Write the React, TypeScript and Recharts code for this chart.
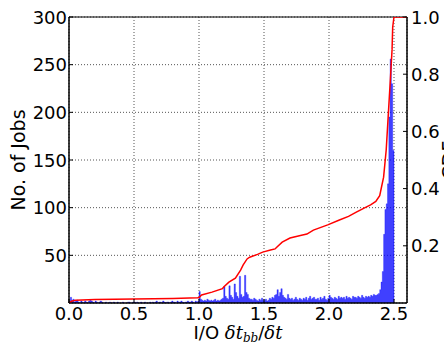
import React from 'react';
import { ComposedChart, Area, Line, XAxis, YAxis, CartesianGrid, ReferenceArea } from 'recharts';

// Histogram: number of jobs per bin of I/O dt_bb/dt (bin width 0.01, starting at 0.00)
const binStart = 0;
const binWidth = 0.01;
const binEnd = 2.5;
const jobCounts: number[] = [
  2, 6, 3, 4, 1, 2, 3, 1, 0, 2,
  1, 0, 2, 1, 0, 2, 3, 2, 1, 0,
  2, 1, 0, 1, 2, 1, 0, 0, 1, 0,
  0, 1, 0, 0, 1, 0, 0, 1, 0, 0,
  0, 1, 0, 0, 0, 1, 1, 0, 0, 1,
  1, 0, 1, 0, 0, 1, 0, 0, 1, 0,
  0, 0, 1, 0, 1, 0, 1, 2, 0, 1,
  1, 0, 2, 1, 0, 1, 1, 0, 1, 2,
  1, 1, 0, 2, 1, 1, 2, 1, 0, 1,
  1, 2, 1, 1, 2, 1, 0, 2, 1, 2,
  12, 4, 3, 2, 3, 2, 4, 3, 2, 3,
  2, 3, 4, 2, 3, 2, 3, 4, 5, 17,
  7, 5, 4, 18, 8, 6, 4, 20, 11, 7,
  5, 28, 9, 6, 7, 29, 11, 9, 5, 4,
  4, 3, 5, 4, 3, 2, 4, 3, 5, 3,
  3, 4, 2, 3, 5, 4, 6, 5, 8, 9,
  14, 7, 11, 15, 8, 6, 5, 4, 9, 5,
  4, 5, 3, 4, 6, 4, 3, 5, 4, 3,
  5, 4, 6, 3, 5, 7, 4, 5, 6, 4,
  4, 5, 3, 6, 4, 5, 7, 4, 3, 5,
  8, 6, 5, 4, 6, 5, 4, 7, 5, 6,
  5, 6, 4, 7, 5, 6, 5, 4, 7, 6,
  6, 5, 7, 6, 5, 8, 6, 5, 7, 6,
  7, 6, 8, 7, 9, 8, 8, 9, 10, 14,
  22, 33, 72, 98, 104, 125, 195, 256, 230, 160,
];

// CDF (right axis)
const cdfX: number[] = [0, 0.02, 0.05, 0.2, 0.5, 0.8, 0.99, 1.0, 1.02, 1.1, 1.18, 1.19, 1.23, 1.28, 1.32, 1.34, 1.37, 1.39, 1.45, 1.49, 1.55, 1.585, 1.6, 1.64, 1.7, 1.78, 1.83, 1.88, 1.99, 2.08, 2.15, 2.21, 2.27, 2.32, 2.36, 2.39, 2.42, 2.44, 2.455, 2.47, 2.485, 2.49, 2.5, 2.6];
const cdfY: number[] = [0, 0.006, 0.01, 0.012, 0.014, 0.016, 0.018, 0.019, 0.028, 0.038, 0.05, 0.056, 0.073, 0.087, 0.115, 0.133, 0.154, 0.16, 0.17, 0.178, 0.185, 0.189, 0.196, 0.213, 0.227, 0.236, 0.241, 0.255, 0.273, 0.29, 0.303, 0.318, 0.332, 0.343, 0.355, 0.375, 0.44, 0.535, 0.65, 0.766, 0.885, 0.965, 1.0, 1.0];

const xTicks = [0, 0.5, 1.0, 1.5, 2.0, 2.5];
const leftTicks = [50, 100, 150, 200, 250, 300];
const rightTicks = [0.2, 0.4, 0.6, 0.8, 1.0];

const histData = [
  ...jobCounts.map((c, i) => ({ x: Number((binStart + i * binWidth).toFixed(2)), count: c })),
  { x: binEnd, count: 0 },
];
const cdfData = cdfX.map((x, i) => ({ x, cdf: cdfY[i] }));

const FONT = "'DejaVu Sans', sans-serif";
const PLOT_TOP = 17;
const PLOT_BOTTOM = 303;
const PLOT_LEFT = 69;
const PLOT_RIGHT = 407;

const XTick = (props: any) => {
  const { x, payload } = props;
  return (
    <g>
      <line x1={x} x2={x} y1={PLOT_BOTTOM} y2={PLOT_BOTTOM - 4} stroke="#000" strokeWidth={1} />
      <text x={x} y={PLOT_BOTTOM + 17} textAnchor="middle" fontSize={18} fontFamily={FONT} fill="#000">
        {Number(payload.value).toFixed(1)}
      </text>
    </g>
  );
};

const LeftTick = (props: any) => {
  const { y, payload } = props;
  return (
    <g>
      <line x1={PLOT_LEFT} x2={PLOT_LEFT + 4} y1={y} y2={y} stroke="#000" strokeWidth={1} />
      <text x={PLOT_LEFT - 2} y={y + 6.5} textAnchor="end" fontSize={18} fontFamily={FONT} fill="#000">
        {String(payload.value)}
      </text>
    </g>
  );
};

const RightTick = (props: any) => {
  const { y, payload } = props;
  return (
    <g>
      <line x1={PLOT_RIGHT} x2={PLOT_RIGHT - 4} y1={y} y2={y} stroke="#000" strokeWidth={1} />
      <text x={PLOT_RIGHT + 4} y={y + 6.5} textAnchor="start" fontSize={18} fontFamily={FONT} fill="#000">
        {Number(payload.value).toFixed(1)}
      </text>
    </g>
  );
};

const XLabel = () => (
  <text x={238} y={339} textAnchor="middle" fontSize={18} fontFamily={FONT} fill="#000">
    <tspan>I/O </tspan>
    <tspan fontFamily="'DejaVu Serif', serif" fontStyle="italic">δt</tspan>
    <tspan fontFamily="'DejaVu Serif', serif" fontStyle="italic" fontSize={12} dy={3}>bb</tspan>
    <tspan dy={-3}>/</tspan>
    <tspan fontFamily="'DejaVu Serif', serif" fontStyle="italic">δt</tspan>
  </text>
);

const LeftLabel = () => (
  <text transform="translate(25,160) rotate(-90)" x={0} y={0} textAnchor="middle" fontSize={19} fontFamily={FONT} fill="#000">
    No. of Jobs
  </text>
);

const RightLabel = () => (
  <text transform="translate(456,160) rotate(-90)" x={0} y={0} textAnchor="middle" fontSize={19} fontFamily={FONT} fill="#000">
    CDF
  </text>
);

export default function App() {
  return (
    <div style={{ position: 'absolute', left: 0, top: 0, background: '#fff' }}>
      <ComposedChart width={444} height={346} margin={{ top: PLOT_TOP, right: 0, bottom: 0, left: 0 }}>
        <CartesianGrid
          yAxisId="left"
          stroke="#555"
          strokeDasharray="1 2"
          strokeWidth={1}
        />
        <XAxis
          type="number"
          dataKey="x"
          domain={[0, 2.6]}
          ticks={xTicks}
          allowDataOverflow
          height={43}
          tickSize={0}
          tickMargin={0}
          tickLine={false}
          axisLine={{ stroke: '#000', strokeWidth: 1 }}
          tick={<XTick />}
          label={<XLabel />}
        />
        <YAxis
          yAxisId="left"
          type="number"
          domain={[0, 300]}
          ticks={leftTicks}
          allowDataOverflow
          width={69}
          tickSize={0}
          tickMargin={0}
          tickLine={false}
          axisLine={{ stroke: '#000', strokeWidth: 1 }}
          tick={<LeftTick />}
          label={<LeftLabel />}
        />
        <YAxis
          yAxisId="right"
          orientation="right"
          type="number"
          domain={[0, 1]}
          ticks={rightTicks}
          allowDataOverflow
          width={37}
          tickSize={0}
          tickMargin={0}
          tickLine={false}
          axisLine={{ stroke: '#000', strokeWidth: 1 }}
          tick={<RightTick />}
          label={<RightLabel />}
        />
        <Area
          yAxisId="left"
          data={histData}
          dataKey="count"
          type="stepAfter"
          fill="#0000ff"
          fillOpacity={0.75}
          stroke="#0000ff"
          strokeOpacity={0.5}
          strokeWidth={0.6}
          dot={false}
          activeDot={false}
          isAnimationActive={false}
        />
        <Line
          yAxisId="right"
          data={cdfData}
          dataKey="cdf"
          type="linear"
          stroke="#ff0000"
          strokeWidth={1.5}
          dot={false}
          activeDot={false}
          isAnimationActive={false}
        />
        <ReferenceArea
          yAxisId="left"
          x1={0}
          x2={2.6}
          y1={0}
          y2={300}
          fill="none"
          fillOpacity={0}
          stroke="#000"
          strokeWidth={1}
          ifOverflow="visible"
        />
      </ComposedChart>
    </div>
  );
}
